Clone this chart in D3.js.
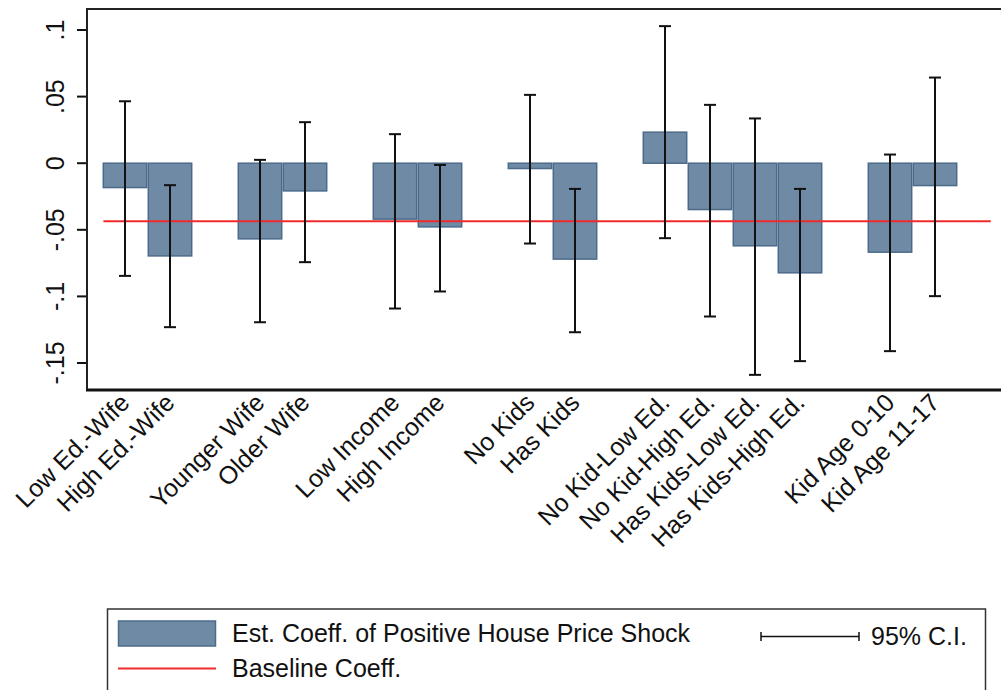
<!DOCTYPE html>
<html>
<head>
<meta charset="utf-8">
<script src="https://cdn.jsdelivr.net/npm/d3@7"></script>
<style>
  html, body { margin: 0; padding: 0; background: #fff; }
  svg { display: block; font-family: Arial, "Liberation Sans", sans-serif; }
</style>
</head>
<body>
<svg id="chart" width="1001" height="690"></svg>
<script>
// Subgroup estimates of the house price shock coefficient with 95% confidence intervals
const categories = [
  "Low Ed.-Wife", "High Ed.-Wife",
  "Younger Wife", "Older Wife",
  "Low Income", "High Income",
  "No Kids", "Has Kids",
  "No Kid-Low Ed.", "No Kid-High Ed.", "Has Kids-Low Ed.", "Has Kids-High Ed.",
  "Kid Age 0-10", "Kid Age 11-17"
];
// slot index of each bar along the x axis (groups separated by an empty slot)
const slots = [0, 1, 3, 4, 6, 7, 9, 10, 12, 13, 14, 15, 17, 18];
const coef   = [-0.0183, -0.0696, -0.0568, -0.0208, -0.0420, -0.0478, -0.0040, -0.0720,
                 0.0233, -0.0348, -0.0620, -0.0823, -0.0668, -0.0168];
const ciLow  = [-0.0846, -0.1231, -0.1194, -0.0743, -0.1091, -0.0963, -0.0603, -0.1269,
                -0.0563, -0.1151, -0.1589, -0.1486, -0.1411, -0.0998];
const ciHigh = [ 0.0465, -0.0165,  0.0025,  0.0308,  0.0218, -0.0013,  0.0513, -0.0193,
                 0.1029,  0.0438,  0.0336, -0.0193,  0.0065,  0.0643];
const baselineCoef = -0.0435;
const baselineSpan = [-0.48, 19.24];
const yTicks = [0.1, 0.05, 0, -0.05, -0.1, -0.15];
const yTickLabels = [".1", ".05", "0", "-.05", "-.1", "-.15"];
const legendLabels = ["Est. Coeff. of Positive House Price Shock", "Baseline Coeff.", "95% C.I."];

const svg = d3.select("#chart");
const barFill = "#6e8aa4", barStroke = "#4c6b8a", red = "#f02a2a", ink = "#111";

const x = d3.scaleLinear().domain([0, 18]).range([125, 935]);
const y = d3.scaleLinear().domain([-0.15, 0.1]).range([363, 30]);
const slotW = x(1) - x(0);
const barW = slotW * 0.965;

const plotLeft = x(-0.8444), plotTop = 9, plotBottom = 390, plotRight = 1004;

// y axis ticks and rotated labels
const yAxis = svg.append("g");
yAxis.selectAll("line").data(yTicks).join("line")
  .attr("x1", plotLeft - 10).attr("x2", plotLeft)
  .attr("y1", d => y(d)).attr("y2", d => y(d))
  .attr("stroke", ink).attr("stroke-width", 2);
yAxis.selectAll("text").data(yTicks).join("text")
  .attr("transform", d => `translate(64,${y(d)}) rotate(-90)`)
  .attr("text-anchor", "middle")
  .attr("font-size", 25).attr("fill", ink)
  .text((d, i) => yTickLabels[i]);

// bars
const data = categories.map((c, i) => ({ c, s: slots[i], v: coef[i], lo: ciLow[i], hi: ciHigh[i] }));
svg.append("g").selectAll("rect").data(data).join("rect")
  .attr("x", d => x(d.s) - barW / 2)
  .attr("width", barW)
  .attr("y", d => y(Math.max(0, d.v)))
  .attr("height", d => Math.abs(y(d.v) - y(0)))
  .attr("fill", barFill).attr("stroke", barStroke).attr("stroke-width", 1.5);

// baseline coefficient
svg.append("line")
  .attr("x1", x(baselineSpan[0])).attr("x2", x(baselineSpan[1]))
  .attr("y1", y(baselineCoef)).attr("y2", y(baselineCoef))
  .attr("stroke", red).attr("stroke-width", 2);

// confidence intervals
const ci = svg.append("g").attr("stroke", ink).attr("stroke-width", 2);
ci.selectAll("line.v").data(data).join("line").attr("class", "v")
  .attr("x1", d => x(d.s)).attr("x2", d => x(d.s))
  .attr("y1", d => y(d.hi)).attr("y2", d => y(d.lo));
ci.selectAll("line.t").data(data).join("line").attr("class", "t")
  .attr("x1", d => x(d.s) - 6).attr("x2", d => x(d.s) + 6)
  .attr("y1", d => y(d.hi)).attr("y2", d => y(d.hi));
ci.selectAll("line.b").data(data).join("line").attr("class", "b")
  .attr("x1", d => x(d.s) - 6).attr("x2", d => x(d.s) + 6)
  .attr("y1", d => y(d.lo)).attr("y2", d => y(d.lo));

// plot frame
svg.append("path")
  .attr("d", `M${plotRight},${plotTop}H${plotLeft}V${plotBottom}`)
  .attr("fill", "none").attr("stroke", "#222").attr("stroke-width", 2);
svg.append("line")
  .attr("x1", plotLeft - 1).attr("x2", plotRight)
  .attr("y1", plotBottom).attr("y2", plotBottom)
  .attr("stroke", "#111").attr("stroke-width", 3);

// category labels
svg.append("g").selectAll("text").data(data).join("text")
  .attr("transform", d => `translate(${x(d.s)},398) rotate(-45)`)
  .attr("text-anchor", "end").attr("dy", "0.35em")
  .attr("font-size", 25).attr("fill", ink)
  .text(d => d.c);

// legend
const lg = svg.append("g");
lg.append("rect").attr("x", 107.5).attr("y", 609).attr("width", 878).attr("height", 100)
  .attr("fill", "#fff").attr("stroke", "#333").attr("stroke-width", 1.5);
lg.append("rect").attr("x", 118.5).attr("y", 621).attr("width", 97).attr("height", 25)
  .attr("fill", barFill).attr("stroke", barStroke).attr("stroke-width", 1.5);
lg.append("text").attr("x", 232).attr("y", 642).attr("font-size", 25).attr("fill", ink).text(legendLabels[0]);
lg.append("line").attr("x1", 118).attr("x2", 216).attr("y1", 668.5).attr("y2", 668.5)
  .attr("stroke", red).attr("stroke-width", 2);
lg.append("text").attr("x", 232).attr("y", 677).attr("font-size", 25).attr("fill", ink).text(legendLabels[1]);
const lci = lg.append("g").attr("stroke", ink).attr("stroke-width", 1.5);
lci.append("line").attr("x1", 761).attr("x2", 859).attr("y1", 636.5).attr("y2", 636.5);
lci.append("line").attr("x1", 761).attr("x2", 761).attr("y1", 632).attr("y2", 641);
lci.append("line").attr("x1", 859).attr("x2", 859).attr("y1", 632).attr("y2", 641);
lg.append("text").attr("x", 871).attr("y", 645).attr("font-size", 25).attr("fill", ink).text(legendLabels[2]);
</script>
</body>
</html>
